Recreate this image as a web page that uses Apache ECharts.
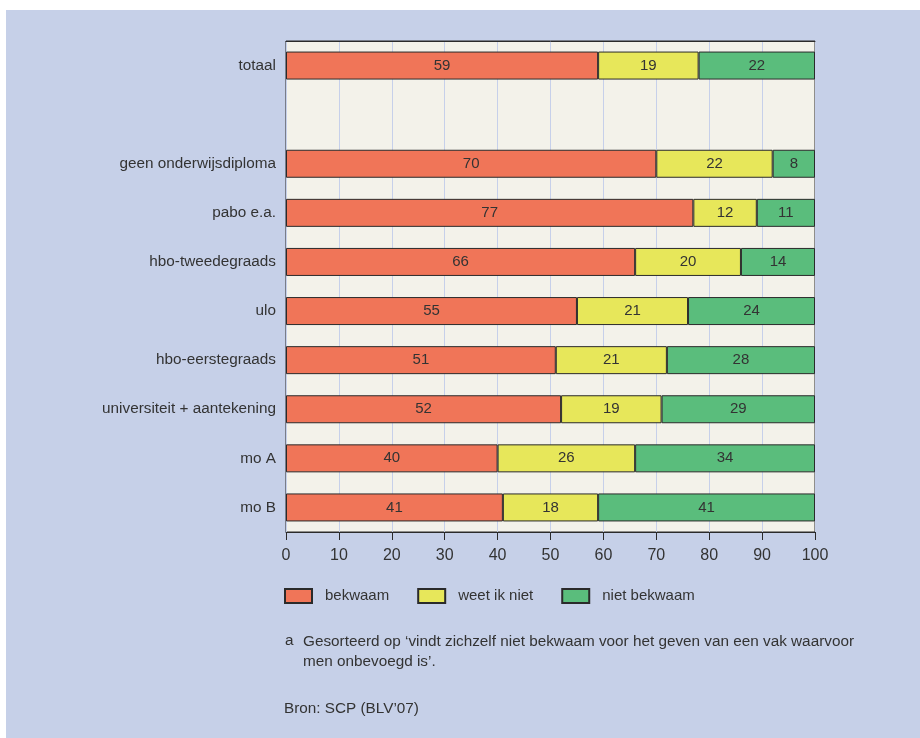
<!DOCTYPE html>
<html>
<head>
<meta charset="utf-8">
<script src="https://cdn.jsdelivr.net/npm/echarts@6/dist/echarts.min.js"></script>
<style>
  html, body { margin: 0; padding: 0; background: #ffffff; }
  #chart { width: 920px; height: 738px; }
</style>
</head>
<body>
<div id="chart"></div>
<script>
// Categories (top to bottom); the empty entry leaves a gap under the total row
const categories = [
  'totaal',
  '',
  'geen onderwijsdiploma',
  'pabo e.a.',
  'hbo-tweedegraads',
  'ulo',
  'hbo-eerstegraads',
  'universiteit + aantekening',
  'mo A',
  'mo B'
];

// Percentages per answer
const bekwaam     = [59, null, 70, 77, 66, 55, 51, 52, 40, 41];
const weetIkNiet  = [19, null, 22, 12, 20, 21, 21, 19, 26, 18];
const nietBekwaam = [22, null,  8, 11, 14, 24, 28, 29, 34, 41];

const seriesNames = ['bekwaam', 'weet ik niet', 'niet bekwaam'];
const seriesColors = ['#f07558', '#e7e75a', '#5abd7c'];

const FONT = '"Liberation Sans", Arial, sans-serif';
const TEXT = '#333333';
const EDGE = '#2a2a2a';

function barSeries(name, data, color) {
  return {
    name: name,
    type: 'bar',
    stack: 'total',
    data: data,
    barWidth: 28,
    itemStyle: { color: color, borderColor: EDGE, borderWidth: 1 },
    label: {
      show: true,
      position: 'inside',
      color: TEXT,
      fontFamily: FONT,
      fontSize: 15
    },
    emphasis: { disabled: true }
  };
}

const chart = echarts.init(document.getElementById('chart'), null, { renderer: 'canvas' });

chart.setOption({
  animation: false,
  backgroundColor: '#ffffff',
  graphic: [
    {
      type: 'rect',
      z: -10,
      shape: { x: 6, y: 10, width: 914, height: 728 },
      style: { fill: '#c6d0e8' }
    },
    {
      type: 'text',
      left: 285, top: 633,
      style: { text: 'a', font: '15.3px ' + FONT, fill: TEXT }
    },
    {
      type: 'text',
      left: 303, top: 632,
      style: {
        text: 'Gesorteerd op \u2018vindt zichzelf niet bekwaam voor het geven van een vak waarvoor\nmen onbevoegd is\u2019.',
        font: '15.3px ' + FONT,
        lineHeight: 20,
        fill: TEXT
      }
    },
    {
      type: 'text',
      left: 284, top: 701,
      style: { text: 'Bron: SCP (BLV\u201907)', font: '15.3px ' + FONT, fill: TEXT }
    }
  ],
  legend: {
    left: 284,
    top: 588,
    padding: 0,
    itemWidth: 27,
    itemHeight: 14,
    itemGap: 28,
    icon: 'rect',
    data: seriesNames,
    textStyle: { color: TEXT, fontFamily: FONT, fontSize: 15, padding: [0, 0, 0, 8] },
    selectedMode: false
  },
  grid: {
    left: 286,
    right: 105,
    top: 41,
    bottom: 206,
    show: true,
    backgroundColor: '#f3f2ea',
    borderColor: EDGE,
    borderWidth: 1,
    containLabel: false
  },
  xAxis: [
    {
      type: 'value',
      min: 0,
      max: 100,
      interval: 10,
      axisLine: { show: true, lineStyle: { color: EDGE, width: 1 } },
      axisTick: { show: true, length: 8, lineStyle: { color: EDGE } },
      axisLabel: { color: TEXT, fontFamily: FONT, fontSize: 16, margin: 16 },
      splitLine: { show: true, lineStyle: { color: '#c6d0ea', width: 1 } }
    },
    {
      // plain frame line along the top of the plot
      type: 'value',
      position: 'top',
      min: 0,
      max: 100,
      interval: 10,
      axisLine: { show: true, lineStyle: { color: EDGE, width: 1 } },
      axisTick: { show: false },
      axisLabel: { show: false },
      splitLine: { show: false }
    }
  ],
  yAxis: {
    type: 'category',
    data: categories,
    inverse: true,
    axisLine: { show: false },
    axisTick: { show: false },
    axisLabel: { color: TEXT, fontFamily: FONT, fontSize: 15.3, margin: 10 },
    splitLine: { show: false }
  },
  series: [
    barSeries(seriesNames[0], bekwaam, seriesColors[0]),
    barSeries(seriesNames[1], weetIkNiet, seriesColors[1]),
    barSeries(seriesNames[2], nietBekwaam, seriesColors[2])
  ]
});
</script>
</body>
</html>
